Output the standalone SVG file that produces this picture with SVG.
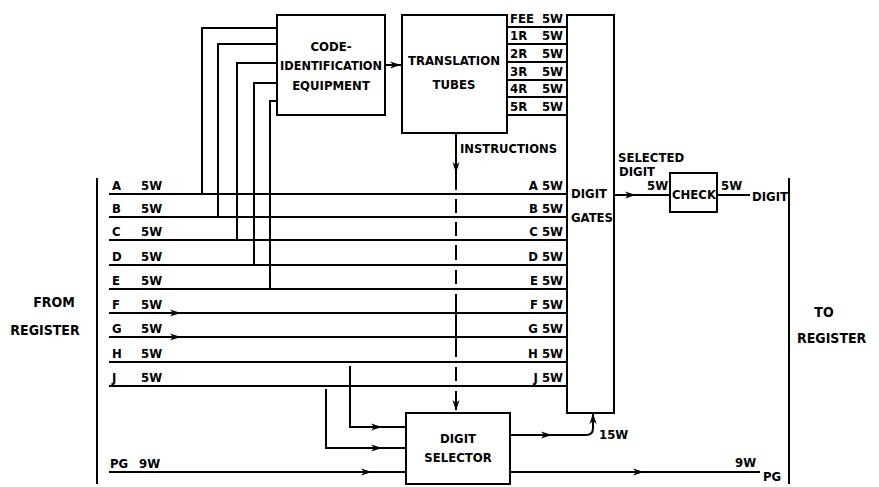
<svg xmlns="http://www.w3.org/2000/svg" xmlns:xlink="http://www.w3.org/1999/xlink" width="879" height="487" viewBox="0 0 879 487">
<style>
.ln{stroke:#000;stroke-width:2;fill:none}
.bx{stroke:#000;stroke-width:2;fill:#fff}
.t{font-family:"DejaVu Sans Condensed","DejaVu Sans","Liberation Sans",sans-serif;font-weight:bold;font-size:13px;fill:#000}
.b{font-size:14px}
.m{text-anchor:middle}
.e{text-anchor:end}
</style>
<defs>
<path id="ah" d="M0,0 L-11,-3.5 L-8,0 L-11,3.5 Z" fill="#000"/>
</defs>
<rect width="879" height="487" fill="#fff"/>

<g id="connectors">
<path class="ln" d="M109,194H567 M109,217H567 M109,240H567 M109,265H567 M109,289H567 M109,313H567 M109,337H567 M109,362H567 M109,386H567"/>
<path class="ln" d="M109,472H406"/>
<use xlink:href="#ah" transform="translate(372,472)"/>
<use xlink:href="#ah" transform="translate(181,313)"/>
<use xlink:href="#ah" transform="translate(181,337)"/>
<path class="ln" d="M202,194V28H277 M218,217V44H277 M237,240V63H277 M254,265V83H277 M270,289V101H277"/>
<path class="ln" d="M385,65H402"/>
<use xlink:href="#ah" transform="translate(401,65)"/>
<path class="ln" d="M456,133V190 M456,199V213 M456,222V236 M456,245V260 M456,270V284 M456,294V357 M456,367V381 M456,391V410"/>
<use xlink:href="#ah" transform="translate(456,173) rotate(90)"/>
<use xlink:href="#ah" transform="translate(456,411) rotate(90)"/>
<path class="ln" d="M350,366V427H406 M326,389V448H406"/>
<use xlink:href="#ah" transform="translate(382,427)"/>
<use xlink:href="#ah" transform="translate(382,448)"/>
<path class="ln" d="M510,435H586Q593,435 593,428V414"/>
<use xlink:href="#ah" transform="translate(593,413) rotate(-90)"/>
<use xlink:href="#ah" transform="translate(552,435)"/>
<path class="ln" d="M510,472H760"/>
<use xlink:href="#ah" transform="translate(644,472)"/>
<path class="ln" d="M614,195H670 M717,195H750"/>
<use xlink:href="#ah" transform="translate(636,195)"/>
<path class="ln" d="M97,178V484 M789,178V484"/>
</g>

<g id="code-identification">
<rect class="bx" x="277" y="15" width="108" height="100"/>
<text class="t m" x="331" y="51">CODE-</text>
<text class="t m" x="331" y="70" textLength="102" lengthAdjust="spacingAndGlyphs">IDENTIFICATION</text>
<text class="t m" x="331" y="90">EQUIPMENT</text>
</g>

<g id="translation-tubes">
<rect class="bx" x="402" y="15" width="105" height="118"/>
<text class="t m" x="454" y="65" textLength="92" lengthAdjust="spacingAndGlyphs">TRANSLATION</text>
<text class="t m" x="454" y="89">TUBES</text>
</g>

<g id="fee-rows">
<path class="ln" d="M507,27H567 M507,44H567 M507,62H567 M507,80H567 M507,97H567 M507,115H567"/>
<text class="t" x="510" y="23">FEE</text><text class="t e" x="563" y="23">5W</text>
<text class="t" x="510" y="40">1R</text><text class="t e" x="563" y="40">5W</text>
<text class="t" x="510" y="58">2R</text><text class="t e" x="563" y="58">5W</text>
<text class="t" x="510" y="76">3R</text><text class="t e" x="563" y="76">5W</text>
<text class="t" x="510" y="93">4R</text><text class="t e" x="563" y="93">5W</text>
<text class="t" x="510" y="111">5R</text><text class="t e" x="563" y="111">5W</text>
</g>

<g id="digit-gates">
<rect class="bx" x="567" y="15" width="47" height="398"/>
<text class="t" x="571" y="198">DIGIT</text>
<text class="t" x="571" y="222">GATES</text>
</g>

<g id="digit-selector">
<rect class="bx" x="406" y="413" width="104" height="71"/>
<text class="t m" x="458" y="443">DIGIT</text>
<text class="t m" x="458" y="462">SELECTOR</text>
</g>

<g id="check">
<rect class="bx" x="670" y="173" width="47" height="39"/>
<text class="t m" x="694" y="199">CHECK</text>
</g>

<g id="labels">
<text class="t" x="112" y="190">A</text><text class="t" x="141" y="190">5W</text>
<text class="t" x="112" y="213">B</text><text class="t" x="141" y="213">5W</text>
<text class="t" x="112" y="236">C</text><text class="t" x="141" y="236">5W</text>
<text class="t" x="112" y="261">D</text><text class="t" x="141" y="261">5W</text>
<text class="t" x="112" y="285">E</text><text class="t" x="141" y="285">5W</text>
<text class="t" x="112" y="309">F</text><text class="t" x="141" y="309">5W</text>
<text class="t" x="112" y="333">G</text><text class="t" x="141" y="333">5W</text>
<text class="t" x="112" y="358">H</text><text class="t" x="141" y="358">5W</text>
<text class="t" x="112" y="382">J</text><text class="t" x="141" y="382">5W</text>
<text class="t" x="110" y="468">PG</text><text class="t" x="139" y="468">9W</text>

<text class="t e" x="563" y="190">A 5W</text>
<text class="t e" x="563" y="213">B 5W</text>
<text class="t e" x="563" y="236">C 5W</text>
<text class="t e" x="563" y="261">D 5W</text>
<text class="t e" x="563" y="285">E 5W</text>
<text class="t e" x="563" y="309">F 5W</text>
<text class="t e" x="563" y="333">G 5W</text>
<text class="t e" x="563" y="358">H 5W</text>
<text class="t e" x="563" y="382">J 5W</text>

<text class="t" x="460" y="153" textLength="97" lengthAdjust="spacingAndGlyphs">INSTRUCTIONS</text>
<text class="t" x="618" y="162">SELECTED</text>
<text class="t" x="619" y="176">DIGIT</text>
<text class="t" x="647" y="190">5W</text>
<text class="t" x="721" y="190">5W</text>
<text class="t" x="752" y="201">DIGIT</text>
<text class="t" x="599" y="439">15W</text>
<text class="t" x="735" y="467">9W</text>
<text class="t" x="763" y="481">PG</text>

<text class="t b m" x="54" y="307">FROM</text>
<text class="t b m" x="45" y="335">REGISTER</text>
<text class="t b m" x="824" y="317">TO</text>
<text class="t b" x="797" y="343">REGISTER</text>
</g>
</svg>
